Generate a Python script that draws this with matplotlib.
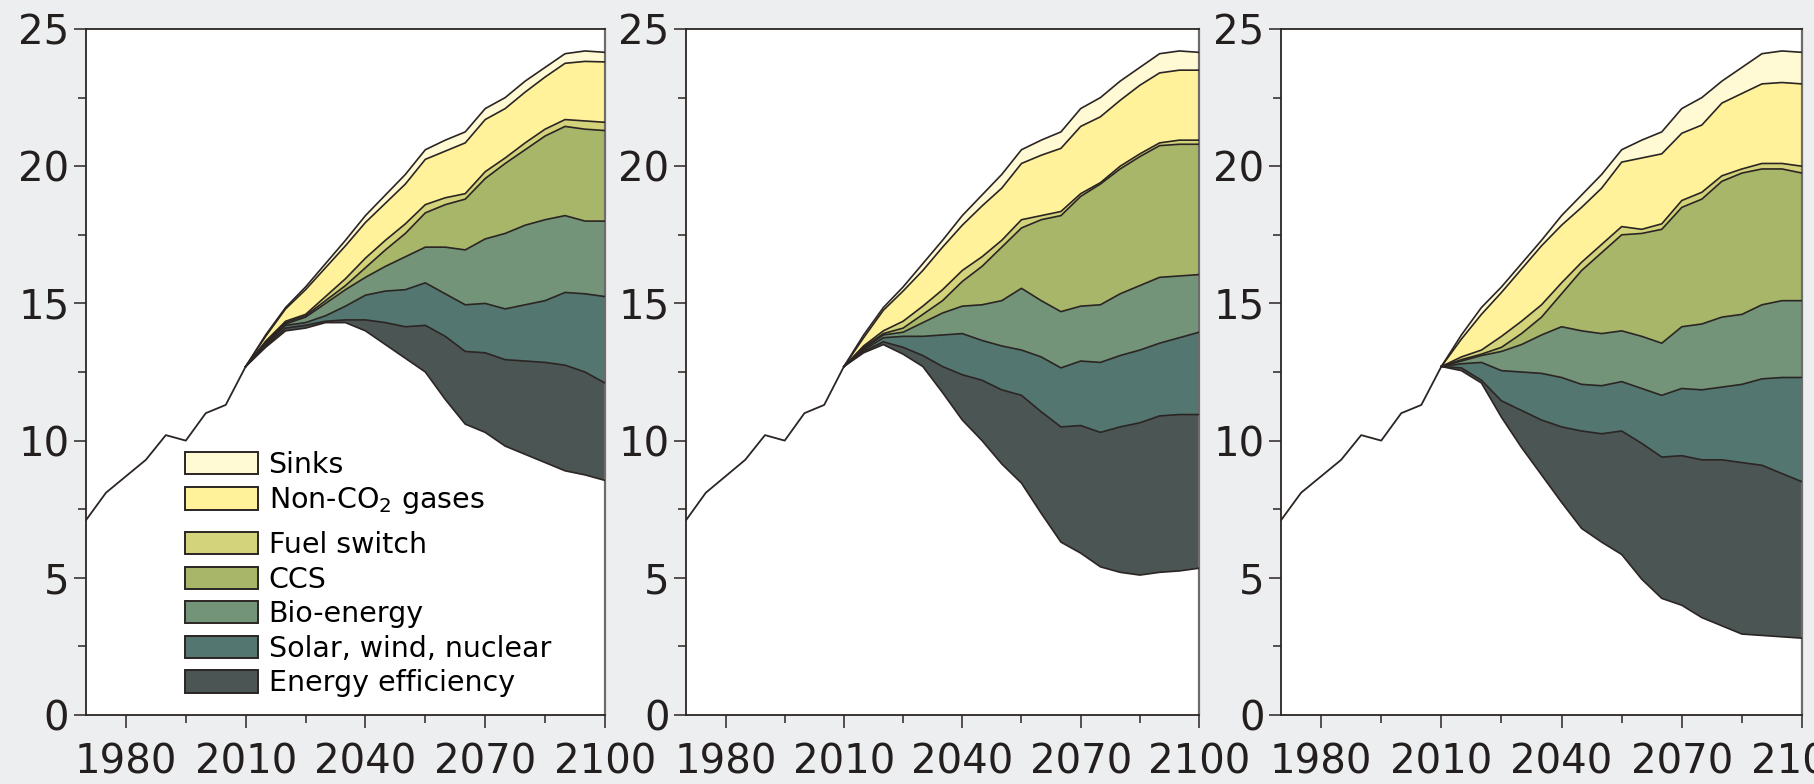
import matplotlib
matplotlib.use('Agg')
import matplotlib.pyplot as plt
from matplotlib.patches import Patch
from matplotlib.ticker import MultipleLocator, FixedLocator

plt.rcParams['font.family'] = ['DejaVu Sans']
plt.rcParams['mathtext.default'] = 'regular'

# historical emissions (GtC-eq/yr)
hist_years = [1970, 1975, 1980, 1985, 1990, 1995, 2000, 2005, 2010]
hist_emissions = [7.1, 8.1, 8.7, 9.3, 10.2, 10.0, 11.0, 11.3, 12.7]

# scenario years and the shared baseline (top of the stack)
years = list(range(2010, 2101, 5))
baseline = [12.7, 13.85, 14.85, 15.6, 16.45, 17.3, 18.2, 18.95, 19.7, 20.6, 20.95,
            21.25, 22.1, 22.5, 23.1, 23.6, 24.1, 24.2, 24.15]

labels = ['Energy efficiency', 'Solar, wind, nuclear', 'Bio-energy', 'CCS',
          'Fuel switch', 'Non-CO$_2$ gases', 'Sinks']
colors = ['#4b5554', '#537670', '#749479', '#a8b66a', '#d3d37c', '#fff29b', '#fffad4']

# levels per panel: emission path, then top of each wedge (EE .. non-CO2)
left_levels = [
    [12.7, 13.4, 14.0, 14.1, 14.3, 14.3, 14.0, 13.5, 13.0, 12.5, 11.5, 10.6, 10.3, 9.8, 9.5, 9.2, 8.9, 8.75, 8.55],
    [12.7, 13.45, 14.1, 14.2, 14.35, 14.4, 14.4, 14.3, 14.15, 14.2, 13.8, 13.25, 13.2, 12.95, 12.9, 12.85, 12.75, 12.5, 12.1],
    [12.7, 13.5, 14.2, 14.3, 14.55, 14.9, 15.3, 15.45, 15.5, 15.75, 15.35, 14.95, 15.0, 14.8, 14.95, 15.1, 15.4, 15.35, 15.25],
    [12.7, 13.55, 14.25, 14.5, 15.0, 15.5, 15.95, 16.35, 16.7, 17.05, 17.05, 16.95, 17.35, 17.55, 17.85, 18.05, 18.2, 18.0, 18.0],
    [12.7, 13.6, 14.3, 14.55, 15.1, 15.65, 16.3, 16.95, 17.55, 18.3, 18.6, 18.8, 19.55, 20.1, 20.6, 21.1, 21.45, 21.35, 21.3],
    [12.7, 13.62, 14.35, 14.6, 15.25, 15.9, 16.65, 17.3, 17.9, 18.6, 18.85, 19.0, 19.8, 20.3, 20.85, 21.35, 21.7, 21.65, 21.6],
    [12.7, 13.8, 14.8, 15.5, 16.3, 17.1, 17.95, 18.65, 19.35, 20.25, 20.55, 20.85, 21.7, 22.1, 22.7, 23.25, 23.75, 23.82, 23.8],
]
middle_levels = [
    [12.7, 13.2, 13.5, 13.15, 12.7, 11.75, 10.75, 10.0, 9.15, 8.45, 7.35, 6.3, 5.9, 5.4, 5.2, 5.1, 5.2, 5.25, 5.35],
    [12.7, 13.25, 13.6, 13.4, 13.1, 12.7, 12.4, 12.2, 11.85, 11.65, 11.05, 10.5, 10.55, 10.3, 10.5, 10.65, 10.9, 10.95, 10.95],
    [12.7, 13.3, 13.75, 13.8, 13.8, 13.85, 13.9, 13.65, 13.45, 13.3, 13.05, 12.65, 12.9, 12.85, 13.1, 13.3, 13.55, 13.75, 13.95],
    [12.7, 13.35, 13.85, 13.95, 14.3, 14.65, 14.9, 14.95, 15.1, 15.55, 15.1, 14.7, 14.9, 14.95, 15.35, 15.65, 15.95, 16.0, 16.05],
    [12.7, 13.4, 13.9, 14.1, 14.6, 15.1, 15.8, 16.35, 17.05, 17.75, 18.05, 18.2, 18.9, 19.35, 19.9, 20.35, 20.75, 20.8, 20.8],
    [12.7, 13.45, 14.0, 14.35, 14.9, 15.5, 16.2, 16.7, 17.3, 18.05, 18.2, 18.35, 19.0, 19.4, 20.0, 20.45, 20.85, 20.95, 20.95],
    [12.7, 13.75, 14.75, 15.45, 16.2, 17.05, 17.85, 18.55, 19.2, 20.1, 20.4, 20.65, 21.45, 21.8, 22.4, 22.95, 23.4, 23.5, 23.5],
]
right_levels = [
    [12.7, 12.55, 12.1, 10.85, 9.75, 8.75, 7.75, 6.8, 6.3, 5.85, 4.95, 4.25, 4.0, 3.55, 3.25, 2.95, 2.9, 2.85, 2.8],
    [12.7, 12.65, 12.2, 11.45, 11.1, 10.75, 10.5, 10.35, 10.25, 10.35, 9.9, 9.4, 9.45, 9.3, 9.3, 9.2, 9.1, 8.8, 8.5],
    [12.7, 12.8, 12.85, 12.55, 12.5, 12.45, 12.3, 12.05, 12.0, 12.15, 11.9, 11.65, 11.9, 11.85, 11.95, 12.05, 12.25, 12.3, 12.3],
    [12.7, 12.9, 13.1, 13.25, 13.5, 13.85, 14.15, 14.0, 13.9, 14.0, 13.8, 13.55, 14.15, 14.25, 14.5, 14.6, 14.95, 15.1, 15.1],
    [12.7, 12.95, 13.15, 13.4, 13.9, 14.5, 15.35, 16.2, 16.85, 17.5, 17.55, 17.7, 18.5, 18.8, 19.45, 19.75, 19.9, 19.9, 19.75],
    [12.7, 13.05, 13.3, 13.8, 14.35, 14.95, 15.75, 16.5, 17.15, 17.8, 17.7, 17.9, 18.75, 19.05, 19.65, 19.9, 20.1, 20.1, 20.0],
    [12.7, 13.7, 14.6, 15.4, 16.25, 17.1, 17.85, 18.5, 19.2, 20.15, 20.3, 20.45, 21.2, 21.5, 22.3, 22.65, 23.0, 23.05, 23.0],
]

x_major = [1980, 2010, 2040, 2070, 2100]
x_minor = [1995, 2025, 2055, 2085]

ink = '#2b2523'
fig = plt.figure(figsize=(18.14, 7.84), dpi=100, facecolor='#edeef0')
boxes = [(0.0474, 0.0880, 0.2861, 0.8750),
         (0.3782, 0.0880, 0.2828, 0.8750),
         (0.7062, 0.0880, 0.2872, 0.8750)]

axes = []
for box, panel in zip(boxes, [left_levels, middle_levels, right_levels]):
    ax = fig.add_axes(box)
    ax.set_facecolor('white')
    levels = panel + [baseline]
    for i in range(len(colors)):
        ax.fill_between(years, levels[i], levels[i + 1], facecolor=colors[i],
                        edgecolor='none', linewidth=0, zorder=2)
    for lv in levels:
        ax.plot(years, lv, color=ink, lw=1.2, zorder=3)
    ax.plot(hist_years, hist_emissions, color=ink, lw=1.3, zorder=3)

    ax.set_xlim(1970, 2100)
    ax.set_ylim(0, 25)
    ax.xaxis.set_major_locator(FixedLocator(x_major))
    ax.xaxis.set_minor_locator(FixedLocator(x_minor))
    ax.yaxis.set_major_locator(MultipleLocator(5))
    ax.yaxis.set_minor_locator(MultipleLocator(2.5))
    ax.tick_params(which='major', direction='out', length=9, width=1.1, color=ink,
                   labelsize=29, labelcolor='#231f1e')
    ax.tick_params(which='minor', direction='out', length=6, width=1.1, color=ink)
    ax.tick_params(axis='x', which='major', pad=11)
    ax.tick_params(axis='y', which='major', pad=3)
    for side in ['left', 'bottom', 'top']:
        ax.spines[side].set_color(ink)
        ax.spines[side].set_linewidth(1.3)
    ax.spines['right'].set_color('#6f6b6a')
    ax.spines['right'].set_linewidth(1.6)
    axes.append(ax)

# legend in the first panel, split into two groups like the original
handles = [Patch(facecolor=c, edgecolor=ink, linewidth=1.4, label=l)
           for c, l in zip(colors, labels)]
leg_kw = dict(frameon=False, fontsize=20.5, handlelength=2.55, handleheight=0.82,
              handletextpad=0.38, labelspacing=0.23, borderpad=0, borderaxespad=0,
              loc='upper left')
leg_top = axes[0].legend(handles=[handles[6], handles[5]],
                         bbox_to_anchor=(0.191, 0.385), **leg_kw)
axes[0].add_artist(leg_top)
axes[0].legend(handles=[handles[4], handles[3], handles[2], handles[1], handles[0]],
               bbox_to_anchor=(0.191, 0.268), **leg_kw)

fig.savefig('out.png', dpi=100, facecolor=fig.get_facecolor())
